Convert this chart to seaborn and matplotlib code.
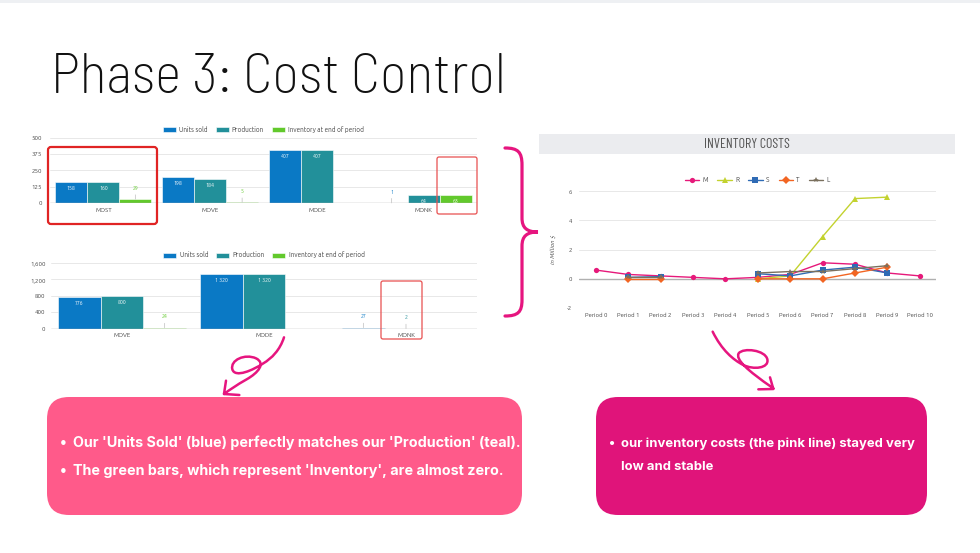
import numpy as np
import pandas as pd
import matplotlib
matplotlib.use("Agg")
import matplotlib.pyplot as plt
import seaborn as sns
from matplotlib.patches import FancyBboxPatch, Rectangle, PathPatch
from matplotlib.path import Path
import logging
logging.getLogger("matplotlib.font_manager").setLevel(logging.ERROR)

sns.set_theme(style="white")
plt.rcParams['font.family'] = ['Ubuntu', 'Open Sans', 'DejaVu Sans']
plt.rcParams['axes.unicode_minus'] = False

# ---------------- data ----------------
series_names = ["Units sold", "Production", "Inventory at end of period"]
bar_colors = ["#0a79c5", "#22909a", "#62c92c"]

top_categories = ["MOST", "MOVE", "MODE", "MONK"]
top_units_sold = [158, 198, 407, 1]
top_production = [160, 184, 407, 64]
top_inventory = [29, 5, 0, 63]
top_yticks = [0, 125, 250, 375, 500]

bottom_categories = ["MOVE", "MODE", "MONK"]
bottom_units_sold = [776, 1320, 27]
bottom_production = [800, 1320, 2]
bottom_inventory = [24, 0, 0]
bottom_yticks = [0, 400, 800, 1200, 1600]

period_labels = ["Period 0", "Period 1", "Period 2", "Period 3", "Period 4", "Period 5",
                 "Period 6", "Period 7", "Period 8", "Period 9", "Period 10"]
nan = np.nan
cost_M = [0.6, 0.3, 0.2, 0.1, 0.0, 0.1, 0.3, 1.1, 1.0, 0.4, 0.2]
cost_R = [nan, nan, nan, nan, nan, 0.0, 0.2, 2.9, 5.5, 5.6, nan]
cost_S = [nan, 0.1, 0.15, nan, nan, 0.35, 0.2, 0.6, 0.8, 0.4, nan]
cost_T = [nan, 0.0, 0.0, nan, nan, 0.0, 0.0, 0.0, 0.4, 0.8, nan]
cost_L = [nan, 0.15, 0.15, nan, nan, 0.4, 0.5, 0.5, 0.7, 0.9, nan]
cost_series = ["M", "R", "S", "T", "L"]
cost_colors = ["#e6197a", "#c3d22f", "#2f6bb5", "#f26522", "#7a705e"]
cost_markers = ["o", "^", "s", "D", "*"]
cost_yticks = [-2, 0, 2, 4, 6]

W, H = 980, 553
fig = plt.figure(figsize=(W / 100, H / 100), dpi=100)
fig.patch.set_facecolor("white")


def px_axes(x0, y0, x1, y1):
    """axes rectangle given pixel box (top-left origin)"""
    return fig.add_axes([x0 / W, 1 - y1 / H, (x1 - x0) / W, (y1 - y0) / H])


def fmt(v):
    return f"{int(round(v)):,}".replace(",", " ")


def bar_panel(ax, cats, units, prod, inv, yticks, thresh, ypad):
    df = pd.DataFrame({
        "category": cats * 3,
        "series": [s for s in series_names for _ in cats],
        "value": units + prod + inv,
    })
    sns.barplot(data=df, x="category", y="value", hue="series", hue_order=series_names,
                order=cats, palette=bar_colors, width=0.9, saturation=1, ax=ax,
                edgecolor="white", linewidth=0.4, errorbar=None)
    ax.set_ylim(yticks[0], yticks[-1])
    ax.set_yticks(yticks)
    ax.set_yticklabels([f"{t:,}" for t in yticks])
    ax.set_xlabel("")
    ax.set_ylabel("")
    for s in ax.spines.values():
        s.set_visible(False)
    ax.yaxis.grid(True, color="#e4e4e4", lw=0.6)
    ax.set_axisbelow(True)
    ax.axhline(0, color="#b0b0b0", lw=1.0, zorder=3)
    ax.tick_params(axis="both", length=0, labelsize=4.4, colors="#444")
    ax.tick_params(axis="y", pad=ypad)
    ax.tick_params(axis="x", pad=3)
    for cont, color in zip(ax.containers, bar_colors):
        for rect in cont:
            h = rect.get_height()
            if not np.isfinite(h) or h == 0:
                continue
            x = rect.get_x() + rect.get_width() / 2
            if h >= thresh:
                ax.annotate(fmt(h), (x, h), xytext=(0, -2.5), textcoords="offset points",
                            ha="center", va="top", color="white", fontsize=3.7, zorder=5)
            else:
                ax.annotate(fmt(h), (x, h), xytext=(0, 6), textcoords="offset points",
                            ha="center", va="bottom", color=color, fontsize=3.7,
                            annotation_clip=False, zorder=5,
                            arrowprops=dict(arrowstyle="-", color="#c8c8c8", lw=0.6,
                                            shrinkA=0.5, shrinkB=0))
    leg = ax.legend(loc="lower center", bbox_to_anchor=(0.5, 1.03), ncol=3, frameon=False,
                    fontsize=4.7, handlelength=2.0, handleheight=0.8, columnspacing=1.2,
                    handletextpad=0.5, borderaxespad=0)
    for t in leg.get_texts():
        t.set_color("#444")
    return leg


# --- top bar chart
ax1 = px_axes(50, 137.7, 477, 203)
leg1 = bar_panel(ax1, top_categories, top_units_sold, top_production, top_inventory,
                 top_yticks, 45, 6)

# --- bottom bar chart
ax2 = px_axes(51, 263, 477, 328.7)
bar_panel(ax2, bottom_categories, bottom_units_sold, bottom_production, bottom_inventory,
          bottom_yticks, 150, 4)

# --- line chart
ax3 = px_axes(579, 191.3, 936, 308)
rows = []
for name, vals in zip(cost_series, [cost_M, cost_R, cost_S, cost_T, cost_L]):
    seg = 0
    prev_nan = True
    for i, v in enumerate(vals):
        if np.isnan(v):
            prev_nan = True
            continue
        if prev_nan:
            seg += 1
            prev_nan = False
        rows.append({"period": i, "cost": v, "series": name, "segment": f"{name}{seg}"})
cdf = pd.DataFrame(rows)
sns.lineplot(data=cdf, x="period", y="cost", hue="series", style="series", units="segment",
             estimator=None, hue_order=cost_series, style_order=cost_series,
             palette=cost_colors, markers=cost_markers, dashes=False, lw=1.0,
             markersize=3.8, markeredgewidth=0, ax=ax3)
ax3.set_xlim(-0.52, 10.5)
ax3.set_ylim(-2, 6)
ax3.set_yticks(cost_yticks)
ax3.set_yticklabels([str(t) for t in cost_yticks])
ax3.set_xticks(range(len(period_labels)))
ax3.set_xticklabels(period_labels)
ax3.set_xlabel("")
ax3.set_ylabel("in Million $", fontsize=4.4, style="italic", color="#444", labelpad=8)
for s in ax3.spines.values():
    s.set_visible(False)
ax3.yaxis.grid(True, color="#e4e4e4", lw=0.6)
ax3.set_axisbelow(True)
ax3.axhline(0, color="#b0b0b0", lw=1.0, zorder=1)
ax3.tick_params(axis="both", length=0, labelsize=4.3, colors="#444")
ax3.tick_params(axis="y", pad=5)
ax3.tick_params(axis="x", pad=3)
handles, labels = ax3.get_legend_handles_labels()
leg3 = ax3.legend(handles, labels, loc="lower center", bbox_to_anchor=(0.5, 1.05), ncol=5,
                  frameon=False, fontsize=4.7, handlelength=2.2, columnspacing=1.4,
                  handletextpad=0.5, borderaxespad=0)
for t in leg3.get_texts():
    t.set_color("#444")

# ---------------- overlay (decorations, text boxes) ----------------
ov = fig.add_axes([0, 0, 1, 1], zorder=10)
ov.set_xlim(0, W)
ov.set_ylim(H, 0)
ov.axis("off")
ov.patch.set_alpha(0)

ov.add_patch(Rectangle((0, 0), W, 3, color="#eef0f3", lw=0))

ov.text(51, 93, "Phase 3: Cost Control", fontsize=40.5,
        fontfamily=["Barlow Semi Condensed", "Roboto", "DejaVu Sans"],
        fontweight=275, color="#111", va="baseline", ha="left")

# red highlight boxes
red = "#e02424"
ov.add_patch(FancyBboxPatch((48, 147), 109, 77, boxstyle="round,pad=0,rounding_size=3",
                            fill=False, ec=red, lw=1.6))
ov.add_patch(FancyBboxPatch((437, 157), 40, 57, boxstyle="round,pad=0,rounding_size=2",
                            fill=False, ec="#e85050", lw=0.9))
ov.add_patch(FancyBboxPatch((381, 281), 41, 58, boxstyle="round,pad=0,rounding_size=2",
                            fill=False, ec="#e85050", lw=0.9))

# inventory costs header band
ov.add_patch(Rectangle((539, 134), 416, 20, color="#ebecef", lw=0))
ov.text(747, 144.5, "INVENTORY COSTS", fontsize=10, ha="center", va="center", color="#555",
        fontfamily=["Barlow Condensed", "DejaVu Sans"], fontweight=400)

mag = "#e6157f"
# curly brace
brace = Path([(505, 148), (518, 148), (522, 152), (522, 165),
              (522, 218),
              (522, 228), (527, 232), (538, 232),
              (527, 232), (522, 236), (522, 246),
              (522, 300),
              (522, 312), (518, 316), (505, 316)],
             [Path.MOVETO, Path.CURVE4, Path.CURVE4, Path.CURVE4,
              Path.LINETO,
              Path.CURVE4, Path.CURVE4, Path.CURVE4,
              Path.CURVE4, Path.CURVE4, Path.CURVE4,
              Path.LINETO,
              Path.CURVE4, Path.CURVE4, Path.CURVE4])
ov.add_patch(PathPatch(brace, fill=False, ec=mag, lw=2.3, capstyle="round"))


def zpath(pts, codes, ox, oy):
    return Path([(ox + x / 3, oy + y / 3) for x, y in pts], codes)


M_, C_, L_ = Path.MOVETO, Path.CURVE4, Path.LINETO
# left squiggle arrow
lp = [(252, 22), (240, 60), (215, 85), (190, 100),
      (160, 120), (105, 145), (97, 118),
      (90, 90), (135, 70), (168, 85),
      (198, 100), (175, 128), (140, 148),
      (110, 165), (88, 180), (72, 192),
      (78, 152), (72, 192), (118, 195)]
lc = [M_, C_, C_, C_, C_, C_, C_, C_, C_, C_, C_, C_, C_, C_, C_, C_, M_, L_, L_]
ov.add_patch(PathPatch(zpath(lp, lc, 200, 330), fill=False, ec=mag, lw=1.8,
                       capstyle="round", joinstyle="round"))
# right squiggle arrow
rp = [(68, 35), (95, 90), (130, 120), (160, 135),
      (190, 150), (238, 145), (232, 118),
      (226, 90), (160, 82), (146, 100),
      (136, 118), (170, 150), (250, 205),
      (205, 208), (250, 207), (240, 172)]
rc = [M_, C_, C_, C_, C_, C_, C_, C_, C_, C_, C_, C_, C_, M_, L_, L_]
ov.add_patch(PathPatch(zpath(rp, rc, 690, 320), fill=False, ec=mag, lw=1.8,
                       capstyle="round", joinstyle="round"))

# text boxes
ov.add_patch(FancyBboxPatch((47, 397), 475, 118, boxstyle="round,pad=0,rounding_size=22",
                            fc="#ff5a8a", ec="none"))
ov.add_patch(FancyBboxPatch((596, 397), 331, 118, boxstyle="round,pad=0,rounding_size=22",
                            fc="#e0147a", ec="none"))
box_font = dict(fontsize=10.3, fontweight="bold", color="white", va="center", ha="left",
                fontfamily=["Inter", "DejaVu Sans"])
ov.text(60, 443, "•", **box_font)
ov.text(73, 443, "Our 'Units Sold' (blue) perfectly matches our 'Production' (teal).", **box_font)
ov.text(60, 471, "•", **box_font)
ov.text(73, 471, "The green bars, which represent 'Inventory', are almost zero.", **box_font)
box_font_r = dict(box_font, fontsize=9.4)
ov.text(609, 444, "•", **box_font_r)
ov.text(621, 444, "our inventory costs (the pink line) stayed very", **box_font_r)
ov.text(621, 467, "low and stable", **box_font_r)

fig.savefig("out.png", dpi=100, facecolor="white")
